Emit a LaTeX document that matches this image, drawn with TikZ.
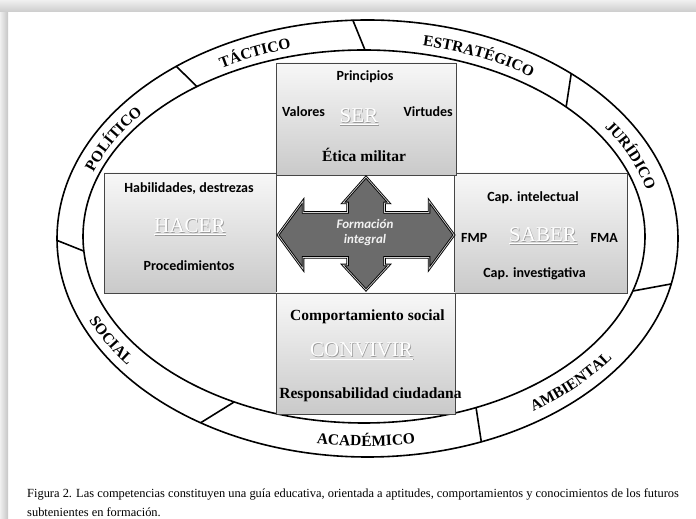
\documentclass[tikz,border=0pt]{standalone}
\usepackage{fontspec}
\setmainfont{Liberation Serif}
\newfontfamily\calfont{Carlito}
\usetikzlibrary{shadows,decorations.text}

\newcommand\compword[1]{\rlap{\color{gray!80}\hspace{0.7pt}\raisebox{-0.7pt}{\underline{#1}}}\underline{#1}}
\newcommand\ringlabfont{\bfseries\fontsize{15.5}{15.5}\selectfont}

\tikzset{
  compbox/.style={draw=gray!55!black, line width=0.6pt, top color=gray!6, bottom color=gray!42,
    drop shadow={shadow xshift=1.2pt, shadow yshift=-1.2pt, opacity=0.3}, inner sep=0pt},
  sanslab/.style={font=\calfont\bfseries\fontsize{14}{16}\selectfont, anchor=base, inner sep=0pt},
  seriflab/.style={font=\bfseries\fontsize{15.5}{17}\selectfont, anchor=base, inner sep=0pt},
  bigword/.style={font=\fontsize{21}{24}\selectfont, text=white, anchor=base, inner sep=0pt},
  ring/.style={line width=1.6pt},
  caplab/.style={font=\fontsize{12.43}{14}\selectfont, anchor=base west, inner sep=0pt}
}

\begin{document}
\begin{tikzpicture}[x=1pt, y=1pt]
  \useasboundingbox (0,0) rectangle (696,519);
  % page shadow
  \shade[left color=gray!12, right color=gray!45] (0,0) rectangle (8,507);
  \shade[top color=gray!12, bottom color=gray!40] (0,507) rectangle (696,519);

  % ring
  \draw[ring] (367.5,280.5) ellipse [x radius=310.5pt, y radius=218.5pt];
  \draw[ring] (364,282.5) ellipse [x radius=281pt, y radius=186.5pt];
  \foreach \ai/\ao in {126.5/128, 89.8/92.7, 44/49, -17/-12, -66.5/-68.5, -117.5/-122.5, 184.5/180.5}
    \draw[ring] ([shift={(\ai:281pt and 186.5pt)}]364,282.5) -- ([shift={(\ao:310.5pt and 218.5pt)}]367.5,280.5);

  % ring labels
  \path[decorate, decoration={text along path, text align=center, text={|\ringlabfont|TÁCTICO}}]
    (366,281.5) ++(138.5:289pt and 195.5pt) arc[start angle=138.5, end angle=88.5, x radius=289pt, y radius=195.5pt];
  \path[decorate, decoration={text along path, text align=center, text={|\ringlabfont|ESTRATÉGICO}}]
    (366,281.5) ++(95.5:289pt and 195.5pt) arc[start angle=95.5, end angle=35.5, x radius=289pt, y radius=195.5pt];
  \path[decorate, decoration={text along path, text align=center, text={|\ringlabfont|JURÍDICO}}]
    (366,281.5) ++(41.5:289pt and 195.5pt) arc[start angle=41.5, end angle=5.5, x radius=289pt, y radius=195.5pt];
  \path[decorate, decoration={text along path, text align=center, text={|\ringlabfont|POLÍTICO}}]
    (366,281.5) ++(171.5:289pt and 195.5pt) arc[start angle=171.5, end angle=131.5, x radius=289pt, y radius=195.5pt];
  \path[decorate, decoration={text along path, text align=center, text={|\ringlabfont|SOCIAL}}]
    (366,281.5) ++(194:302pt and 208.5pt) arc[start angle=194, end angle=226, x radius=302pt, y radius=208.5pt];
  \path[decorate, decoration={text along path, text align=center, text={|\ringlabfont|ACADÉMICO}}]
    (366,281.5) ++(-110:302pt and 208.5pt) arc[start angle=-110, end angle=-70, x radius=302pt, y radius=208.5pt];
  \path[decorate, decoration={text along path, text align=center, text={|\ringlabfont|AMBIENTAL}}]
    (366,281.5) ++(-65:302pt and 208.5pt) arc[start angle=-65, end angle=-25, x radius=302pt, y radius=208.5pt];

  % the four boxes
  \node[compbox, minimum width=172pt, minimum height=120pt] (hacer) at (190,286) {};
  \node[compbox, minimum width=173pt, minimum height=120pt] (saber) at (540.5,286) {};
  \node[compbox, minimum width=180pt, minimum height=112pt] (ser) at (366,400) {};
  \node[compbox, minimum width=179pt, minimum height=121pt] (convivir) at (365.5,165.5) {};

  % SER
  \node[sanslab] (principios) at (365,438) {Principios};
  \node[sanslab, anchor=base west] (valores) at (282,402) {Valores};
  \node[bigword] (serw) at (359,396) {\compword{SER}};
  \node[sanslab, anchor=base east] (virtudes) at (453,402) {Virtudes};
  \node[seriflab] (etica) at (364,357) {Ética militar};

  % HACER
  \node[sanslab] (habil) at (189,326) {Habilidades, destrezas};
  \node[bigword] (hacerw) at (190,286) {\compword{HACER}};
  \node[sanslab] (proced) at (189,248) {Procedimientos};

  % SABER
  \node[sanslab] (capint) at (533,317) {Cap. intelectual};
  \node[sanslab, anchor=base west] (fmp) at (461,276) {FMP};
  \node[bigword] (saberw) at (543,277) {\compword{SABER}};
  \node[sanslab, anchor=base east] (fma) at (618,276) {FMA};
  \node[sanslab] (capinv) at (534.5,241) {Cap. investigativa};

  % CONVIVIR
  \node[seriflab] (comport) at (367.5,198) {Comportamiento social};
  \node[bigword] (convivirw) at (361.5,162) {\compword{CONVIVIR}};
  \node[seriflab] (respons) at (370.5,120) {Responsabilidad ciudadana};

  % cross arrow
  \draw[fill=black!58, draw=black, double=gray!35, double distance=0.7pt, line width=0.9pt, line join=miter]
    (278,284) -- (303,318) -- (303,306.5) -- (347.5,306.5) -- (347.5,316) -- (343,316) -- (366,342)
    -- (389,316) -- (384.5,316) -- (384.5,306.5) -- (429,306.5) -- (429,318) -- (454,284)
    -- (429,250) -- (429,261.5) -- (384.5,261.5) -- (384.5,254) -- (389,254) -- (366,229)
    -- (343,254) -- (347.5,254) -- (347.5,261.5) -- (303,261.5) -- (303,250) -- cycle;
  \node[font=\calfont\bfseries\itshape\fontsize{13}{15}\selectfont, text=gray!10, align=center] (formacion) at (365,286.5) {Formación\\integral};

  % caption
  \node[caplab] (cap1) at (27,21) {Figura 2. Las competencias constituyen una guía educativa, orientada a aptitudes, comportamientos y conocimientos de los futuros};
  \node[caplab] (cap2) at (27,2) {subtenientes en formación.};
\end{tikzpicture}
\end{document}
